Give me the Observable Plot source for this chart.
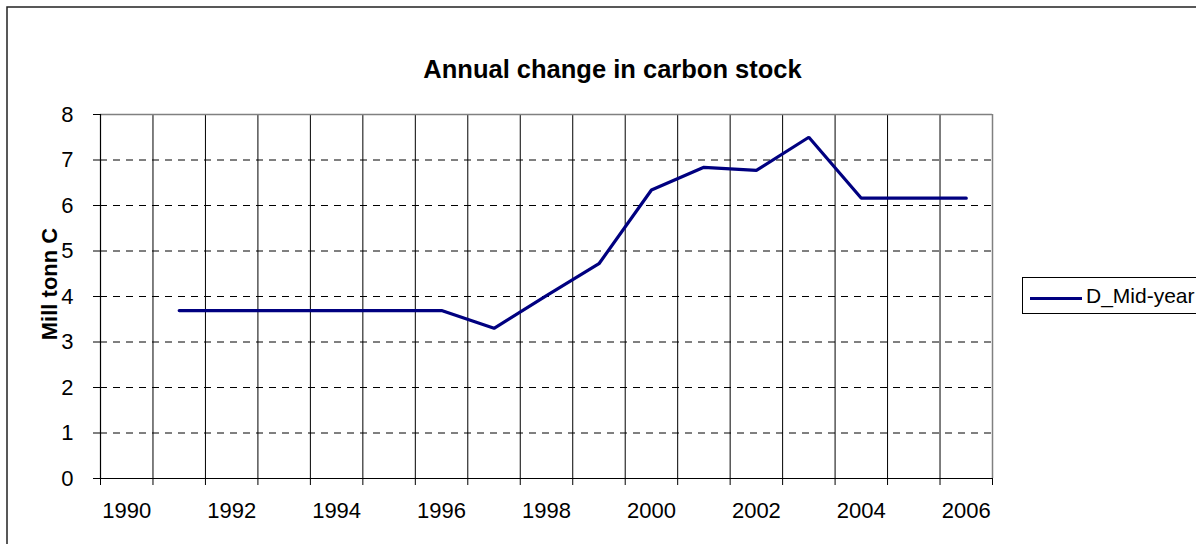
<!DOCTYPE html>
<html>
<head>
<meta charset="utf-8">
<script src="https://cdn.jsdelivr.net/npm/d3@7"></script>
<script src="https://cdn.jsdelivr.net/npm/@observablehq/plot@0.6"></script>
<style>
  html, body { margin: 0; padding: 0; background: #fff; overflow: hidden; width: 1196px; height: 544px; }
  #wrap { position: relative; width: 1196px; height: 544px; overflow: hidden; font-family: Arial, "Liberation Sans", sans-serif; }
  #legend { position: absolute; left: 1022px; top: 277px; width: 240px; height: 37px; border: 1px solid #000; background: #fff; box-sizing: border-box; }
  #legend svg { position: absolute; left: 7px; top: 0; }
  #legend span { position: absolute; left: 63px; top: 6px; font-size: 21px; line-height: 24px; color: #000; white-space: nowrap; }
</style>
</head>
<body>
<div id="wrap"></div>
<script>
// ---- data ----
const years = [1990, 1991, 1992, 1993, 1994, 1995, 1996, 1997, 1998, 1999, 2000, 2001, 2002, 2003, 2004, 2005, 2006];
const values = [null, 3.69, 3.69, 3.69, 3.69, 3.69, 3.69, 3.30, 4.02, 4.72, 6.34, 6.84, 6.77, 7.50, 6.16, 6.16, 6.16];
const xTickLabels = [1990, 1992, 1994, 1996, 1998, 2000, 2002, 2004, 2006];
const yTicks = [0, 1, 2, 3, 4, 5, 6, 7, 8];
const seriesName = "D_Mid-year";
const titleText = "Annual change in carbon stock";
const yTitle = "Mill tonn C";

const data = years.map((y, i) => ({year: y, value: values[i]}));
const boundaries = years.map(y => y - 0.5).concat([years[years.length - 1] + 0.5]);
const innerBounds = boundaries.slice(1, -1);
const dashed = yTicks.slice(1, -1);

const chart = Plot.plot({
  width: 1196,
  height: 544,
  marginLeft: 100,
  marginRight: 204,
  marginTop: 114,
  marginBottom: 66,
  style: {fontFamily: 'Arial, "Liberation Sans", sans-serif', fontSize: "22px", color: "#000", background: "#fff", overflow: "hidden"},
  x: {domain: [boundaries[0], boundaries[boundaries.length - 1]], axis: null},
  y: {domain: [0, 8], axis: null},
  marks: [
    Plot.ruleY(dashed, {stroke: "#000", strokeWidth: 1, strokeDasharray: "7,6"}),
    Plot.ruleX(innerBounds, {stroke: "#000", strokeWidth: 1}),
    Plot.ruleY([8], {stroke: "#808080", strokeWidth: 1.5}),
    Plot.ruleX([boundaries[boundaries.length - 1]], {stroke: "#808080", strokeWidth: 1.5}),
    Plot.ruleY([0], {stroke: "#000", strokeWidth: 1.2}),
    Plot.ruleX([boundaries[0]], {stroke: "#000", strokeWidth: 1.2}),
    Plot.axisY(yTicks, {tickSize: 7, tickPadding: 20, fontSize: 22, label: null, stroke: "#000"}),
    Plot.axisX(boundaries, {tickSize: 7, tickFormat: () => "", label: null, stroke: "#000"}),
    Plot.axisX(xTickLabels, {tickSize: 0, tickPadding: 24, fontSize: 22, label: null, tickFormat: d => String(d)}),
    Plot.line(data.filter(d => d.value != null), {x: "year", y: "value", stroke: "#000080", strokeWidth: 3.2, strokeLinejoin: "miter"}),
    Plot.text([titleText], {frameAnchor: "top", dx: 66, dy: -55, fontWeight: "bold", fontSize: 25.5, fill: "#000"}),
    Plot.text([yTitle], {frameAnchor: "left", textAnchor: "middle", dx: -51, dy: -12.5, rotate: -90, fontWeight: "bold", fontSize: 22, fill: "#000"})
  ]
});

// outer chart-area border (extends beyond the visible window on right and bottom)
d3.select(chart).insert("rect", ":first-child")
  .attr("x", 7).attr("y", 7).attr("width", 1300).attr("height", 700)
  .attr("fill", "none").attr("stroke", "#222").attr("stroke-width", 1.5);

const wrap = document.getElementById("wrap");
wrap.appendChild(chart);

// legend
const legend = document.createElement("div");
legend.id = "legend";
legend.innerHTML = '<svg width="54" height="37"><line x1="0" x2="52" y1="20.5" y2="20.5" stroke="#000080" stroke-width="3.2"/></svg><span></span>';
legend.querySelector("span").textContent = seriesName;
wrap.appendChild(legend);
</script>
</body>
</html>
